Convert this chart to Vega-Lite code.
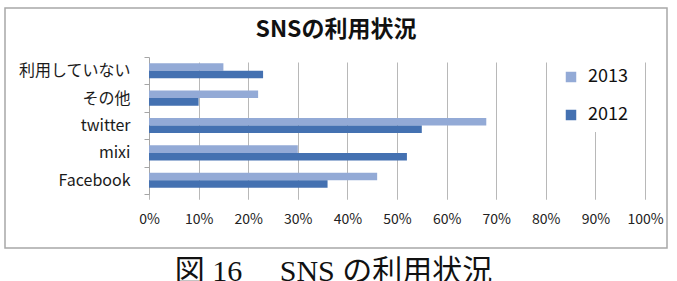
{
  "$schema": "https://vega.github.io/schema/vega-lite/v6.json",
  "width": 662,
  "height": 240,
  "autosize": "none",
  "padding": {"left": 5, "top": 8, "right": 10, "bottom": 33},
  "background": "white",
  "title": {
    "text": "SNSの利用状況",
    "font": "Noto Sans CJK JP",
    "fontSize": 23,
    "fontWeight": "bold",
    "color": "#111111",
    "anchor": "middle",
    "offset": -42
  },
  "data": {
    "values": [
      {"category": "利用していない", "year": "2013", "value": 0.15},
      {"category": "利用していない", "year": "2012", "value": 0.23},
      {"category": "その他", "year": "2013", "value": 0.22},
      {"category": "その他", "year": "2012", "value": 0.10},
      {"category": "twitter", "year": "2013", "value": 0.68},
      {"category": "twitter", "year": "2012", "value": 0.55},
      {"category": "mixi", "year": "2013", "value": 0.30},
      {"category": "mixi", "year": "2012", "value": 0.52},
      {"category": "Facebook", "year": "2013", "value": 0.46},
      {"category": "Facebook", "year": "2012", "value": 0.36}
    ]
  },
  "mark": {"type": "bar"},
  "encoding": {
    "y": {
      "field": "category",
      "type": "nominal",
      "sort": ["利用していない", "その他", "twitter", "mixi", "Facebook"],
      "scale": {"range": [49, 186], "paddingInner": 0, "paddingOuter": 0},
      "axis": {
        "title": null,
        "offset": -144,
        "domainColor": "#a6a6a6",
        "tickColor": "#a6a6a6",
        "tickBand": "extent",
        "tickSize": 5,
        "labelFont": "Noto Sans CJK JP",
        "labelFontSize": 16,
        "labelColor": "#1a1a1a",
        "labelPadding": 14,
        "grid": false
      }
    },
    "yOffset": {
      "field": "year",
      "type": "nominal",
      "sort": ["2013", "2012"],
      "scale": {"paddingInner": 0, "paddingOuter": 0.82}
    },
    "x": {
      "field": "value",
      "type": "quantitative",
      "scale": {"domain": [0, 1], "range": [144, 640], "nice": false, "zero": true},
      "axis": {
        "title": "図 16　  SNS の利用状況",
        "titleFont": "Liberation Serif, Noto Sans CJK JP",
        "titleFontSize": 30,
        "titleFontWeight": "normal",
        "titleColor": "#111111",
        "titleX": 328,
        "titleY": 62,
        "titleAlign": "center",
        "titleBaseline": "top",
        "offset": -54,
        "values": [0, 0.1, 0.2, 0.3, 0.4, 0.5, 0.6, 0.7, 0.8, 0.9, 1],
        "format": ".0%",
        "domain": false,
        "ticks": true,
        "tickColor": "#b8b8b8",
        "tickSize": 5,
        "grid": true,
        "gridColor": "#b8b8b8",
        "labelFlush": false,
        "labelFont": "Noto Sans CJK JP",
        "labelFontSize": 14,
        "labelColor": "#222222",
        "labelPadding": 13
      }
    },
    "color": {
      "field": "year",
      "type": "nominal",
      "scale": {"domain": ["2013", "2012"], "range": ["#93aad6", "#4471b1"]},
      "legend": {
        "title": null,
        "orient": "none",
        "legendX": 549,
        "legendY": 52,
        "fillColor": "white",
        "padding": 8,
        "symbolType": "square",
        "symbolSize": 110,
        "symbolStrokeWidth": 0,
        "labelFont": "Noto Sans CJK JP",
        "labelFontSize": 18,
        "labelColor": "#111111",
        "rowPadding": 20,
        "labelOffset": 8
      }
    }
  },
  "config": {
    "view": {"stroke": "#a8a8a8", "strokeWidth": 1.5}
  }
}
